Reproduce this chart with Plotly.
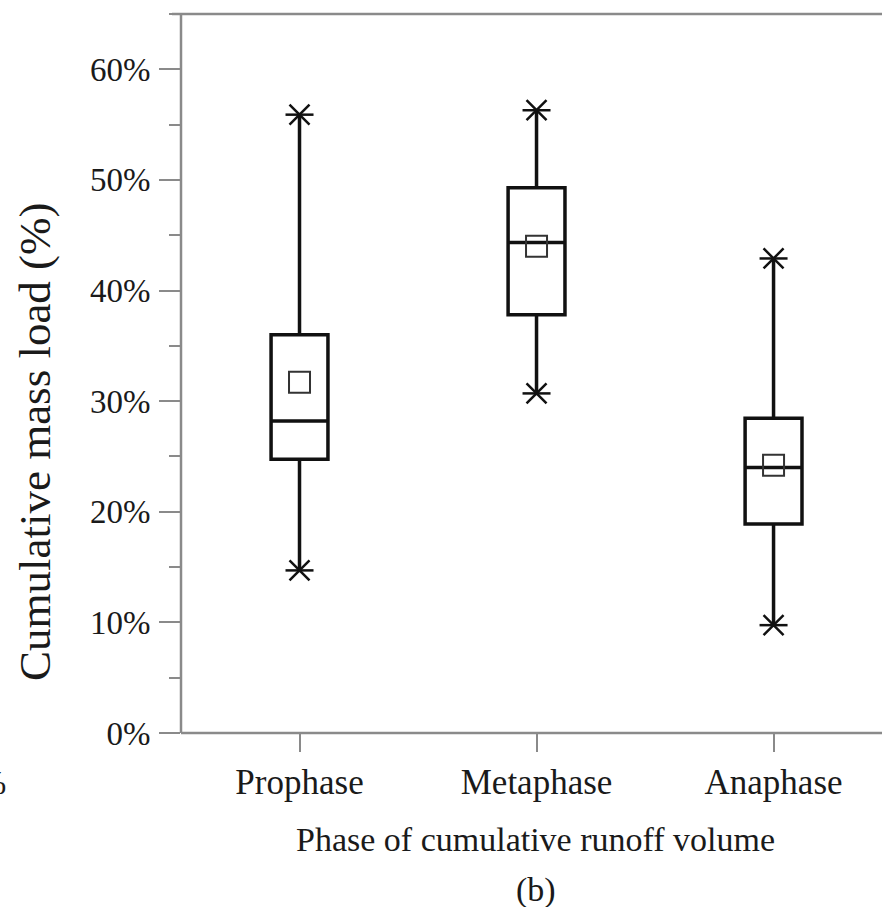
import plotly.graph_objects as go

# Phases of cumulative runoff volume and box statistics (cumulative mass load, %)
phases = ["Prophase", "Metaphase", "Anaphase"]
q1 = [24.75, 37.8, 18.9]
median = [28.2, 44.35, 24.0]
q3 = [36.0, 49.3, 28.45]
lower = [14.7, 30.7, 9.75]
upper = [55.9, 56.3, 42.9]
mean = [31.7, 44.0, 24.2]

y_ticks = [0, 10, 20, 30, 40, 50, 60]

FONT = "Liberation Serif, Times New Roman, serif"
AXIS_GREY = "#8a8a8a"
INK = "#111111"

fig = go.Figure()

fig.add_trace(go.Box(
    x=phases, q1=q1, median=median, q3=q3,
    lowerfence=lower, upperfence=upper,
    width=0.24, whiskerwidth=0,
    line=dict(color=INK, width=3.5),
    fillcolor="rgba(255,255,255,0)",
    boxpoints=False, showlegend=False, hoverinfo="skip",
))

# mean markers
fig.add_trace(go.Scatter(
    x=phases, y=mean, mode="markers",
    marker=dict(symbol="square-open", size=21, color="#333333",
                line=dict(width=2, color="#333333")),
    showlegend=False, hoverinfo="skip",
))

# whisker end stars: an X plus a horizontal bar
ends_x = phases + phases
ends_y = lower + upper
for sym in ["x-thin-open", "line-ew-open"]:
    fig.add_trace(go.Scatter(
        x=ends_x, y=ends_y, mode="markers",
        marker=dict(symbol=sym, size=20, color=INK,
                    line=dict(width=2.5, color=INK)),
        showlegend=False, hoverinfo="skip", cliponaxis=False,
    ))

fig.update_xaxes(
    type="category", range=[-0.5, 2.331],
    showline=False,
    ticks="outside", ticklen=18, tickwidth=2, tickcolor=AXIS_GREY,
    tickfont=dict(family=FONT, size=35, color="#1a1a1a"),
    ticklabelstandoff=0,
    showgrid=False, zeroline=False,
)
fig.update_yaxes(
    range=[0, 65], tickvals=y_ticks,
    ticktext=[f"{v}%" for v in y_ticks],
    showline=False,
    ticks="outside", ticklen=21, tickwidth=2, tickcolor=AXIS_GREY,
    minor=dict(dtick=5, tick0=5, ticks="outside", ticklen=11,
               tickwidth=2, tickcolor=AXIS_GREY),
    tickfont=dict(family=FONT, size=33, color="#1a1a1a"),
    ticklabelstandoff=2,
    showgrid=False, zeroline=False,
)

# frame: left axis, bottom axis and top line, the horizontal ones running
# out to the right edge of the page
frame = [
    dict(x0=0, x1=0, y0=0, y1=1.0),
    dict(x0=-0.0134, x1=1.06, y0=1.0, y1=1.0),
    dict(x0=0, x1=1.06, y0=0, y1=0),
]
for seg in frame:
    fig.add_shape(type="line", xref="paper", yref="paper",
                  line=dict(color=AXIS_GREY, width=2.5), **seg)

annots = [
    dict(text="Cumulative mass load (%)", textangle=-90,
         x=-0.2176, y=0.406, xanchor="center", yanchor="middle",
         font=dict(family=FONT, size=45, color="#1a1a1a")),
    dict(text="Phase of cumulative runoff volume",
         x=0.529, y=-0.1488, xanchor="center", yanchor="middle",
         font=dict(family=FONT, size=34, color="#1a1a1a")),
    dict(text="(b)",
         x=0.529, y=-0.2184, xanchor="center", yanchor="middle",
         font=dict(family=FONT, size=34, color="#1a1a1a")),
    dict(text="%",
         x=-0.2578, y=-0.0695, xanchor="right", yanchor="middle",
         font=dict(family=FONT, size=34, color="#1a1a1a")),
]
for a in annots:
    a.update(xref="paper", yref="paper", showarrow=False)
fig.update_layout(annotations=annots)

fig.update_layout(
    width=882, height=907,
    margin=dict(l=181, r=30, t=14, b=174),
    paper_bgcolor="white", plot_bgcolor="white",
    font=dict(family=FONT),
)

fig.write_html("out.html")
